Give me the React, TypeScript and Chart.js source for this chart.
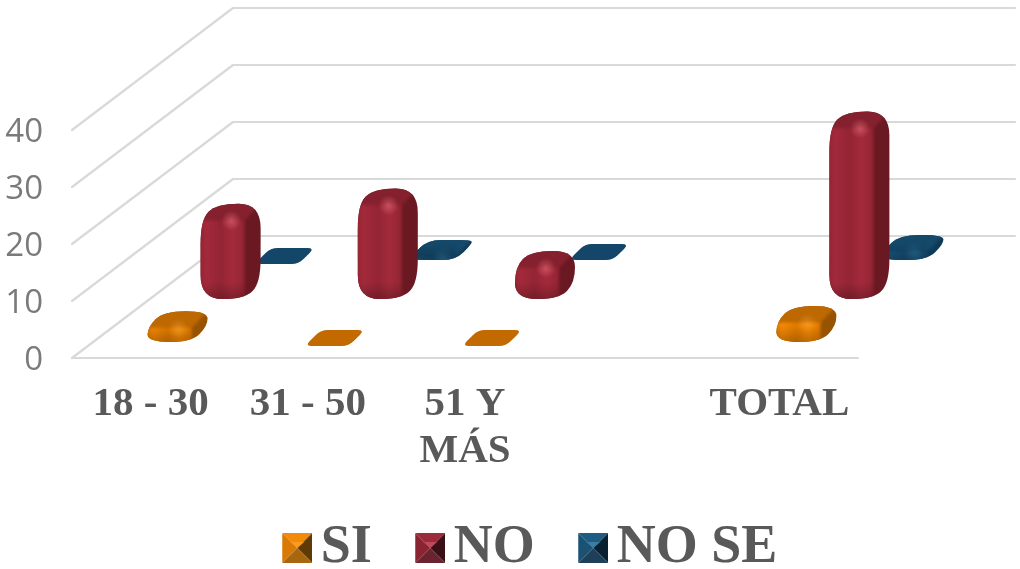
import React, { useEffect, useRef } from "react";
import { Chart, registerables } from "chart.js";

Chart.register(...registerables);

const categories: (string | string[])[] = ["18 - 30", "31 - 50", ["51 Y", "MÁS"], "", "TOTAL"];
const si = [3.3, 0, 0, null, 4.2];
const no = [14.6, 17.3, 6.3, null, 30.8];
const noSe = [0, 1.4, 0.7, null, 2.3];
const yTicksMax = 40;

// Shades used for each face of a bevelled column.
const shades = [
  { edge: "#df7a00", mid: "#f58a05", top: "#bd6800", side: "#985300", flat: "#c26a00", glow: "255,176,70", glowAlpha: 0.35 },
  { edge: "#932433", mid: "#a32a3b", top: "#85212e", side: "#6a1922", flat: "#85212e", glow: "232,104,120", glowAlpha: 0.6 },
  { edge: "#174e72", mid: "#1b5880", top: "#15496a", side: "#0f3a56", flat: "#14466a", glow: "70,140,185", glowAlpha: 0.2 },
];

// Offset of each series row on the floor of the 3D box.
const rowOffset = [
  { x: 27, y: -20 },
  { x: 80, y: -63 },
  { x: 134, y: -102 },
];
const wallDx = 161;
const wallDy = -122;
const capDx = 16;
const capDy = 16;
const bevelInset = 4;

type P = { x: number; y: number };

// Polygon whose corners are softened with quadratic curves, so sharp tips stay slim.
function roundedPolygon(ctx: CanvasRenderingContext2D, raw: P[], radius: number) {
  const pts = raw.filter((p, i) => {
    const n = raw[(i + 1) % raw.length];
    return Math.hypot(p.x - n.x, p.y - n.y) > 0.5;
  });
  const n = pts.length;
  const along = (a: P, b: P, d: number) => {
    const len = Math.hypot(b.x - a.x, b.y - a.y);
    const t = Math.min(d, len / 2) / len;
    return { x: a.x + (b.x - a.x) * t, y: a.y + (b.y - a.y) * t };
  };
  ctx.beginPath();
  for (let i = 0; i < n; i++) {
    const a = pts[i];
    const prev = pts[(i - 1 + n) % n];
    const next = pts[(i + 1) % n];
    const s = along(a, prev, radius);
    const e = along(a, next, radius);
    if (i === 0) ctx.moveTo(s.x, s.y);
    else ctx.lineTo(s.x, s.y);
    ctx.quadraticCurveTo(a.x, a.y, e.x, e.y);
  }
  ctx.closePath();
}

function poly(ctx: CanvasRenderingContext2D, pts: P[]) {
  ctx.beginPath();
  pts.forEach((p, i) => (i ? ctx.lineTo(p.x, p.y) : ctx.moveTo(p.x, p.y)));
  ctx.closePath();
  ctx.fill();
}

function drawColumn(
  ctx: CanvasRenderingContext2D,
  left: number,
  width: number,
  yBase: number,
  yTop: number,
  s: (typeof shades)[number]
) {
  const solid = yBase - yTop > 6;
  const yb = yBase + capDy / 2 - (yBase - yTop > 1 ? bevelInset : 0);
  const yt = Math.min(yTop + capDy / 2, yb);
  const right = left + width;
  const h = yb - yt;
  const outline: P[] = [
    { x: left, y: yb },
    { x: right, y: yb },
    { x: right + capDx, y: yb - capDy },
    { x: right + capDx, y: yt - capDy },
    { x: left + capDx, y: yt - capDy },
    { x: left, y: yt },
  ];
  ctx.save();
  roundedPolygon(ctx, outline, Math.min(24, 7 + h * 1.5));
  ctx.clip();
  ctx.fillStyle = solid ? s.side : s.flat;
  ctx.fillRect(left - 2, yt - capDy - 2, width + capDx + 4, h + capDy * 2 + 4);
  if (solid) {
    ctx.filter = "blur(1.6px)";
    ctx.fillStyle = s.top;
    poly(ctx, [
      { x: left - 4, y: yt + 1 },
      { x: right, y: yt + 1 },
      { x: right + capDx, y: yt - capDy },
      { x: right + capDx, y: yt - capDy - 4 },
      { x: left + capDx - 4, y: yt - capDy - 4 },
    ]);
    const g = ctx.createLinearGradient(left, 0, right, 0);
    g.addColorStop(0, s.edge);
    g.addColorStop(0.12, s.mid);
    g.addColorStop(0.45, s.edge);
    g.addColorStop(0.72, s.mid);
    g.addColorStop(1, s.edge);
    ctx.fillStyle = g;
    ctx.fillRect(left - 4, yt, width + 4, h + 6);
    const v = ctx.createLinearGradient(0, yb - 16, 0, yb);
    v.addColorStop(0, "rgba(0,0,0,0)");
    v.addColorStop(1, "rgba(0,0,0,0.22)");
    ctx.fillStyle = v;
    ctx.fillRect(left - 4, yb - 16, width + 4, 18);
    ctx.filter = "none";
    const cx = left + width * 0.7;
    const glow = ctx.createRadialGradient(cx, yt + 1, 0, cx, yt + 1, 10);
    glow.addColorStop(0, `rgba(${s.glow},${s.glowAlpha})`);
    glow.addColorStop(1, `rgba(${s.glow},0)`);
    ctx.fillStyle = glow;
    ctx.fillRect(cx - 11, yt - 10, 22, 22);
  }
  ctx.restore();
}

// Perspective floor and walls, hung off the value axis ticks.
const boxPlugin = {
  id: "box3d",
  afterLayout(chart: any) {
    const legend = chart.legend;
    legend.left += 106;
    legend.right += 106;
    const h = legend.height;
    legend.top = 467;
    legend.bottom = legend.top + h;
    // Two-line category labels need room beyond the axis box.
    chart.scales.x.bottom = 515;
  },
  beforeDatasetsDraw(chart: any) {
    const { ctx, chartArea, scales } = chart;
    const color = scales.y.options.grid.color;
    ctx.save();
    ctx.strokeStyle = color;
    ctx.lineWidth = 2.2;
    ctx.lineCap = "round";
    ctx.lineJoin = "round";
    scales.y.ticks.forEach((t: any) => {
      const y = scales.y.getPixelForValue(t.value);
      ctx.beginPath();
      ctx.moveTo(chartArea.left, y);
      ctx.lineTo(chartArea.left + wallDx, y + wallDy);
      ctx.lineTo(chartArea.right + wallDx - 4, y + wallDy);
      ctx.stroke();
    });
    const y0 = scales.y.getPixelForValue(0);
    ctx.beginPath();
    ctx.moveTo(chartArea.left, y0);
    ctx.lineTo(chartArea.right, y0);
    ctx.stroke();
    ctx.restore();
  },
  beforeDatasetDraw(chart: any, args: any) {
    const { ctx, scales } = chart;
    const i = args.index;
    const meta = chart.getDatasetMeta(i);
    const off = rowOffset[i];
    meta.data.forEach((bar: any, k: number) => {
      const v = chart.data.datasets[i].data[k];
      if (v === null || v === undefined) return;
      drawColumn(
        ctx,
        bar.x + off.x - (bar.width + capDx) / 2,
        bar.width,
        scales.y.getPixelForValue(0) + off.y,
        scales.y.getPixelForValue(v) + off.y,
        shades[i]
      );
    });
    return false;
  },
};

// Bevelled square used as the legend key; the clear strip on its left pulls the key towards its text.
function keyIcon(top: string, left: string, right: string, bottom: string, centre: string) {
  const strip = 8;
  const c = document.createElement("canvas");
  c.width = 30 + strip;
  c.height = 30;
  const x = c.getContext("2d")!;
  x.translate(strip, 0);
  const tri = (a: number[], b: number[], fill: string) => {
    x.fillStyle = fill;
    x.beginPath();
    x.moveTo(a[0], a[1]);
    x.lineTo(b[0], b[1]);
    x.lineTo(15, 15);
    x.closePath();
    x.fill();
  };
  tri([0, 0], [30, 0], top);
  tri([0, 0], [0, 30], left);
  tri([30, 0], [30, 30], right);
  tri([0, 30], [30, 30], bottom);
  x.fillStyle = centre;
  x.beginPath();
  x.moveTo(15, 15);
  x.lineTo(8, 9);
  x.lineTo(22, 9);
  x.closePath();
  x.fill();
  return c;
}

const seriesNames = ["SI", "NO", "NO SE"];

export default function App() {
  const ref = useRef<HTMLCanvasElement>(null);
  useEffect(() => {
    const icons = [
      keyIcon("#f28a0a", "#d97a06", "#5f3a05", "#a8660f", "#fb9a20"),
      keyIcon("#9c2a3a", "#8a2433", "#3a0f16", "#6a2430", "#c04a5c"),
      keyIcon("#1f5c82", "#1a5273", "#08202f", "#1d4058", "#3a7ea8"),
    ];
    const chart = new Chart(ref.current!, {
      type: "bar",
      data: {
        labels: categories,
        datasets: [si, no, noSe].map((d, i) => ({
          label: seriesNames[i],
          data: d,
          backgroundColor: shades[i].mid,
          barThickness: 44,
          grouped: false,
        })) as any,
      },
      plugins: [boxPlugin],
      options: {
        responsive: false,
        animation: false,
        events: [],
        layout: { padding: { top: 130, right: 162, bottom: 0, left: 0 } },
        plugins: {
          tooltip: { enabled: false },
          legend: {
            position: "bottom",
            labels: {
              usePointStyle: true,
              pointStyleWidth: 1,
              padding: 54,
              color: "#595959",
              font: { family: "Liberation Serif", size: 54, weight: "bold" },
              generateLabels: () =>
                seriesNames.map((text, i) => ({
                  text,
                  pointStyle: icons[i],
                  datasetIndex: i,
                  fontColor: "#595959",
                  lineWidth: 0,
                })),
            },
          },
        },
        scales: {
          x: {
            grid: { display: false },
            border: { display: false },
            afterFit: (s: any) => {
              s.height = 93;
            },
            ticks: {
              color: "#595959",
              maxRotation: 0,
              autoSkip: false,
              padding: 15,
              font: { family: "Liberation Serif", size: 41, weight: "bold", lineHeight: 1.14 },
            },
          },
          y: {
            min: 0,
            max: yTicksMax,
            grid: { display: false, color: "#d9d9d9" },
            border: { display: false },
            afterFit: (s: any) => {
              s.width = 72;
            },
            ticks: {
              stepSize: 10,
              padding: 21,
              labelOffset: 3,
              color: "#7a7a7a",
              font: { family: "Open Sans", size: 33 },
            },
          },
        },
      } as any,
    });
    return () => chart.destroy();
  }, []);
  return (
    <div style={{ position: "absolute", left: 0, top: 0, width: 1020, height: 569, background: "#fff" }}>
      <canvas ref={ref} width={1020} height={569} style={{ display: "block" }} />
    </div>
  );
}
